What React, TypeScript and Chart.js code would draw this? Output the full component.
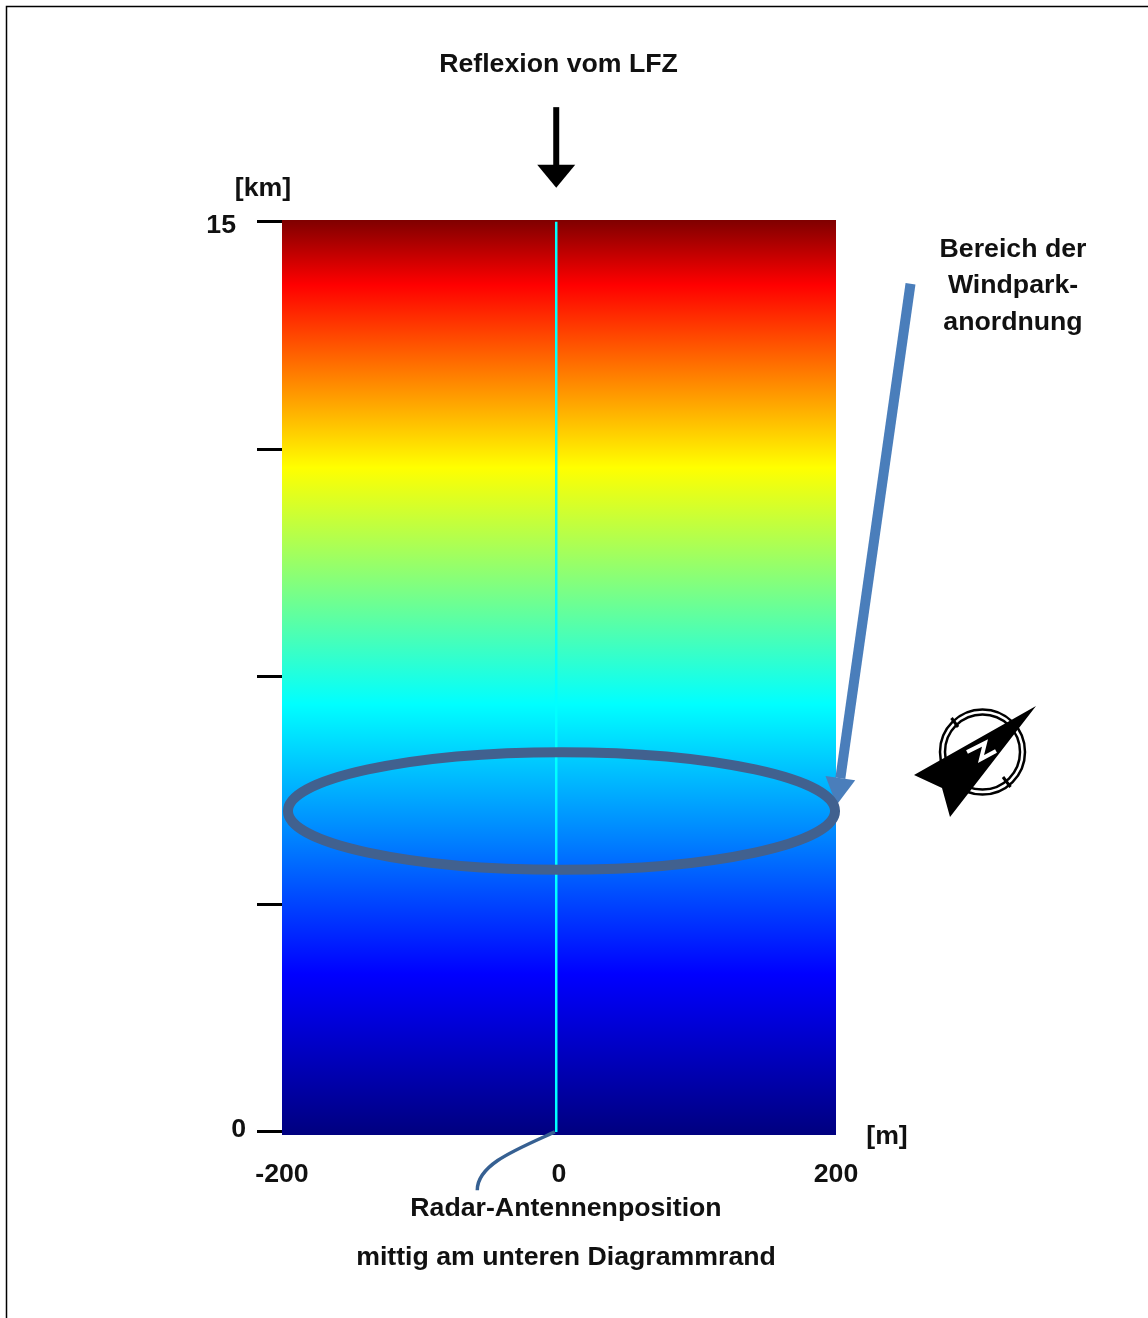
import React, { useEffect, useRef } from "react";
import { Chart, registerables } from "chart.js";

Chart.register(...registerables);

// Axes
const xTickValues = [-200, 0, 200];
const yTickValues = [0, 3.75, 7.5, 11.25, 15];
const yTickLabels: Record<number, string> = { 0: "0", 15: "15" };

// Height colour ramp of the column (km -> colour)
const rampHeights = [-0.05, 2.6, 4.8, 7.05, 9.0, 10.95, 12.45, 13.96, 15.03];
const rampColors = ["#00007f", "#0000ff", "#0080ff", "#00ffff", "#80ff80", "#ffff00", "#ff8000", "#ff0000", "#7f0000"];

// Column extent and the antenna line
const columnX = [-200, 200];
const columnTop = [15.03, 15.03];
const antennaX = [-2, -2];
const antennaY = [0, 15];

// Wind park ellipse (data units)
const parkCenterX = 1.8;
const parkCenterY = 5.29;
const parkRadiusX = 197.5;
const parkRadiusY = 0.97;

// Arrows (data units: start, end)
const lfzArrow = [[-2, 16.89], [-2, 15.56]];
const parkArrow = [[253.8, 13.98], [200.4, 5.39]];
const leader = [[-3, 0], [-32, -0.3], [-59, -0.54], [-59, -0.96]];

const FONT = '"Liberation Sans", Arial, sans-serif';
const BOLD = `bold 26.7px ${FONT}`;

const captions: [string, number, number][] = [
  ["Reflexion vom LFZ", 558.5, 65],
  ["[km]", 263, 189],
  ["[m]", 887, 1137],
  ["Bereich der", 1013, 250],
  ["Windpark-", 1013, 286],
  ["anordnung", 1013, 323],
  ["Radar-Antennenposition", 566, 1209],
  ["mittig am unteren Diagrammrand", 566, 1258],
];

const decor = {
  id: "decor",
  afterDatasetsDraw(chart: any) {
    const { ctx, scales } = chart;
    const X = (v: number) => scales.x.getPixelForValue(v);
    const Y = (v: number) => scales.y.getPixelForValue(v);
    ctx.save();

    // frame
    ctx.strokeStyle = "#000";
    ctx.lineWidth = 1.5;
    ctx.beginPath();
    ctx.moveTo(6.5, 1318);
    ctx.lineTo(6.5, 6.5);
    ctx.lineTo(1148, 6.5);
    ctx.stroke();

    // blue arrow
    const [ps, pe] = parkArrow;
    const bx = X(ps[0]), by = Y(ps[1]), ex = X(pe[0]), ey = Y(pe[1]);
    const a = Math.atan2(ey - by, ex - bx);
    const headLen = 27, headHalf = 15;
    const nx = ex - headLen * Math.cos(a), ny = ey - headLen * Math.sin(a);
    ctx.strokeStyle = "#4a7ebb";
    ctx.lineWidth = 10;
    ctx.beginPath();
    ctx.moveTo(bx, by);
    ctx.lineTo(nx, ny);
    ctx.stroke();
    ctx.fillStyle = "#4a7ebb";
    ctx.beginPath();
    ctx.moveTo(ex, ey);
    ctx.lineTo(nx - headHalf * Math.sin(a), ny + headHalf * Math.cos(a));
    ctx.lineTo(nx + headHalf * Math.sin(a), ny - headHalf * Math.cos(a));
    ctx.closePath();
    ctx.fill();

    // ellipse
    ctx.strokeStyle = "#41618f";
    ctx.lineWidth = 10;
    ctx.beginPath();
    ctx.ellipse(
      X(parkCenterX), Y(parkCenterY),
      Math.abs(X(parkRadiusX) - X(0)), Math.abs(Y(parkRadiusY) - Y(0)),
      0, 0, Math.PI * 2
    );
    ctx.stroke();

    // black arrow
    const [ls, le] = lfzArrow;
    const lx = X(ls[0]), ly0 = Y(ls[1]), ly1 = Y(le[1]);
    ctx.strokeStyle = "#000";
    ctx.lineWidth = 6;
    ctx.beginPath();
    ctx.moveTo(lx, ly0);
    ctx.lineTo(lx, ly1 - 22);
    ctx.stroke();
    ctx.fillStyle = "#000";
    ctx.beginPath();
    ctx.moveTo(lx, ly1);
    ctx.lineTo(lx - 19, ly1 - 23);
    ctx.lineTo(lx + 19, ly1 - 23);
    ctx.closePath();
    ctx.fill();

    // leader from the antenna position
    ctx.strokeStyle = "#366092";
    ctx.lineWidth = 3.5;
    ctx.beginPath();
    ctx.moveTo(X(leader[0][0]), Y(leader[0][1]));
    ctx.bezierCurveTo(
      X(leader[1][0]), Y(leader[1][1]),
      X(leader[2][0]), Y(leader[2][1]),
      X(leader[3][0]), Y(leader[3][1])
    );
    ctx.stroke();

    // compass
    const cx = 982.5, cy = 752;
    ctx.strokeStyle = "#000";
    ctx.lineWidth = 2.5;
    for (const r of [42.5, 37.5]) {
      ctx.beginPath();
      ctx.arc(cx, cy, r, 0, Math.PI * 2);
      ctx.stroke();
    }
    ctx.lineWidth = 3;
    for (const [x0, y0, x1, y1] of [[951.5, 718, 958, 727], [1003, 777, 1010.5, 787]]) {
      ctx.beginPath();
      ctx.moveTo(x0, y0);
      ctx.lineTo(x1, y1);
      ctx.stroke();
    }
    ctx.fillStyle = "#000";
    ctx.beginPath();
    ctx.moveTo(1036, 706);
    ctx.lineTo(914, 775);
    ctx.lineTo(942, 788);
    ctx.lineTo(950, 817);
    ctx.closePath();
    ctx.fill();
    ctx.strokeStyle = "#fff";
    ctx.lineWidth = 4;
    ctx.beginPath();
    ctx.moveTo(967, 752);
    ctx.lineTo(985, 743);
    ctx.lineTo(981, 759);
    ctx.lineTo(996, 751);
    ctx.stroke();

    // text
    ctx.fillStyle = "#111";
    ctx.font = BOLD;
    ctx.textAlign = "center";
    ctx.textBaseline = "middle";
    for (const [t, x, y] of captions) ctx.fillText(t, x, y);
    // value axis labels
    ctx.textAlign = "right";
    ctx.fillText(yTickLabels[15], 236, Y(15) + 4);
    ctx.fillText(yTickLabels[0], 246, Y(0) - 2);
    ctx.restore();
  },
};

export default function App() {
  const ref = useRef<HTMLCanvasElement>(null);
  useEffect(() => {
    const chart = new Chart(ref.current as HTMLCanvasElement, {
      type: "scatter",
      data: {
        datasets: [
          {
            label: "column",
            data: columnX.map((x, i) => ({ x, y: columnTop[i] })),
            showLine: true,
            pointRadius: 0,
            borderWidth: 0,
            fill: "start",
            backgroundColor: (c: any) => {
              const { chart: ch } = c;
              if (!ch.chartArea || !ch.scales.y) return "#0000ff";
              const y = ch.scales.y;
              const g = ch.ctx.createLinearGradient(0, y.getPixelForValue(rampHeights[0]), 0, y.getPixelForValue(rampHeights[rampHeights.length - 1]));
              const span = rampHeights[rampHeights.length - 1] - rampHeights[0];
              rampHeights.forEach((h, i) => g.addColorStop((h - rampHeights[0]) / span, rampColors[i]));
              return g;
            },
            order: 2,
          },
          {
            label: "antenna",
            data: antennaX.map((x, i) => ({ x, y: antennaY[i] })),
            showLine: true,
            pointRadius: 0,
            borderColor: "#00ffff",
            borderWidth: 2.5,
            order: 1,
          },
        ],
      },
      options: {
        responsive: false,
        devicePixelRatio: 1,
        animation: false,
        layout: { padding: { left: 0, top: 220, right: 312, bottom: 0 } },
        plugins: { legend: { display: false }, tooltip: { enabled: false } },
        scales: {
          x: {
            type: "linear",
            min: -200,
            max: 200,
            afterFit: (s: any) => { s.height = 183; },
            afterBuildTicks: (s: any) => { s.ticks = xTickValues.map((value) => ({ value })); },
            grid: { display: false },
            border: { display: false },
            ticks: {
              autoSkip: false,
              maxRotation: 0,
              padding: 16,
              color: "#111",
              font: { family: FONT, size: 26.7, weight: "bold" },
              callback: (v: any) => String(v),
            },
          },
          y: {
            type: "linear",
            min: -0.05,
            max: 15.03,
            afterFit: (s: any) => { s.width = 282; },
            afterBuildTicks: (s: any) => { s.ticks = yTickValues.map((value) => ({ value })); },
            grid: { drawOnChartArea: false, drawTicks: true, tickLength: 25, tickColor: "#000", tickWidth: 3 },
            border: { display: false },
            ticks: { display: false },
          },
        },
      },
      plugins: [decor],
    } as any);
    return () => chart.destroy();
  }, []);
  return (
    <div style={{ position: "absolute", left: 0, top: 0, width: 1148, height: 1318, background: "#fff", overflow: "hidden" }}>
      <canvas ref={ref} width={1148} height={1318} style={{ display: "block" }} />
    </div>
  );
}
